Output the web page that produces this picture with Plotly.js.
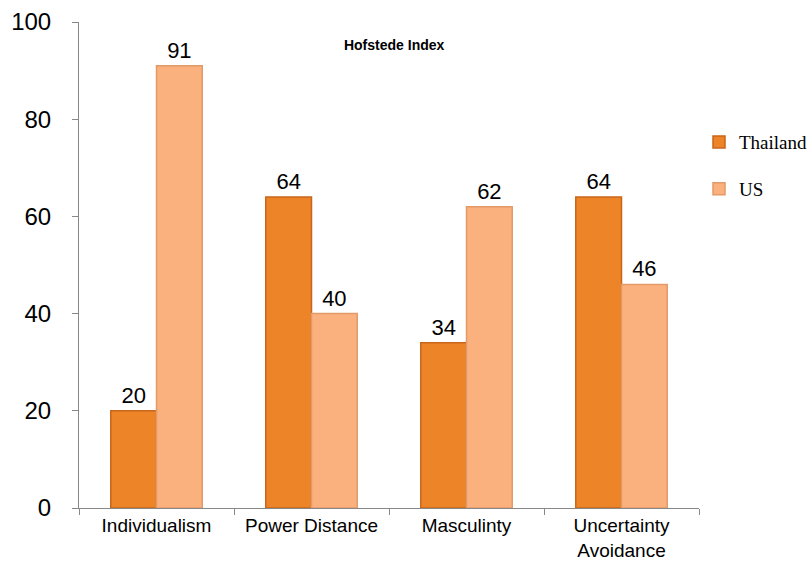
<!DOCTYPE html>
<html>
<head>
<meta charset="utf-8">
<script src="https://cdn.plot.ly/plotly-3.0.1.min.js"></script>
<style>html,body{margin:0;padding:0;background:#fff;}#chart{width:811px;height:566px;}</style>
</head>
<body>
<div id="chart"></div>
<script>
const categories = ["Individualism", "Power Distance", "Masculinty", "Uncertainty<br>Avoidance"];
const thailand = [20, 64, 34, 64];
const us = [91, 40, 62, 46];
const seriesNames = ["Thailand", "US"];

const traces = [
  {
    type: "bar", name: seriesNames[0], x: categories, y: thailand,
    text: thailand.map(String), textposition: "outside", cliponaxis: false,
    textfont: {family: "Liberation Sans, Arial", size: 22, color: "#000"},
    marker: {color: "#EE8428", line: {color: "#C8661A", width: 1.5}},
    legendgroup: "a", hoverinfo: "x+y"
  },
  {
    type: "bar", name: seriesNames[1], x: categories, y: us,
    text: us.map(String), textposition: "outside", cliponaxis: false,
    textfont: {family: "Liberation Sans, Arial", size: 22, color: "#000"},
    marker: {color: "#FBB17E", line: {color: "#E29A68", width: 1.5}},
    legendgroup: "b", hoverinfo: "x+y"
  }
];

const layout = {
  width: 811, height: 566,
  margin: {l: 79, r: 112, t: 22, b: 58, autoexpand: false},
  paper_bgcolor: "#fff", plot_bgcolor: "#fff",
  barmode: "group", bargap: 0.41, bargroupgap: 0,
  font: {family: "Liberation Sans, Arial", color: "#000"},
  title: {
    text: "<b>Hofstede Index</b>",
    font: {family: "Liberation Sans, Arial", size: 14, color: "#000"},
    x: 0.486, xanchor: "center", xref: "container",
    y: 1 - 45 / 566, yanchor: "middle", yref: "container"
  },
  xaxis: {
    type: "category", tickson: "boundaries", automargin: false,
    showline: true, linecolor: "#888", linewidth: 1,
    ticks: "outside", ticklen: 6, tickcolor: "#888",
    tickfont: {family: "Liberation Sans, Arial", size: 19, color: "#000"},
    showgrid: false, zeroline: false, fixedrange: true
  },
  yaxis: {
    range: [0, 100], tickvals: [0, 20, 40, 60, 80, 100], automargin: false,
    showline: true, linecolor: "#888", linewidth: 1,
    ticks: "outside", ticklen: 6, tickcolor: "#888",
    ticklabelstandoff: 16,
    tickfont: {family: "Liberation Sans, Arial", size: 24, color: "#000"},
    showgrid: false, zeroline: false, fixedrange: true
  },
  showlegend: true,
  legend: {
    x: 1.0, xanchor: "left", y: 0.792, yanchor: "top",
    traceorder: "grouped", tracegroupgap: 19,
    font: {family: "Liberation Serif, Times New Roman", size: 19, color: "#000"},
    bgcolor: "rgba(0,0,0,0)"
  }
};

Plotly.newPlot("chart", traces, layout, {displayModeBar: false, staticPlot: true});
</script>
</body>
</html>
